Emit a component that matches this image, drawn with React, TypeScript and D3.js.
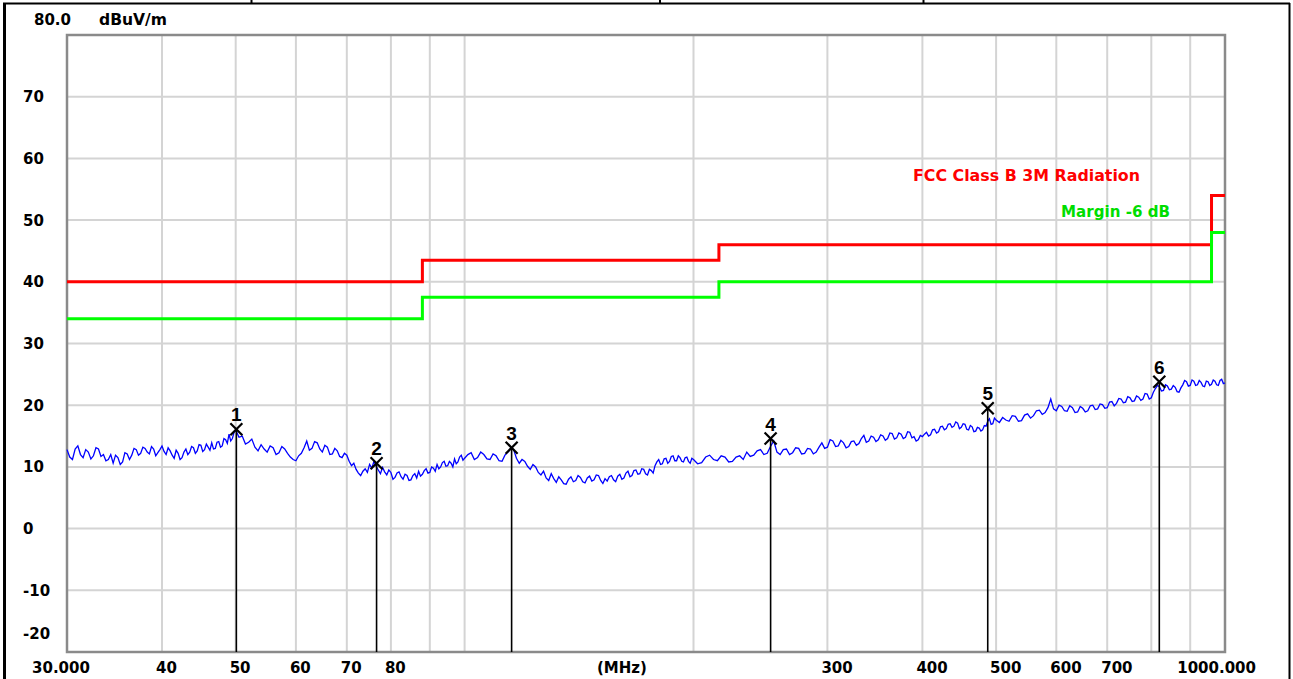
import React from "react";
import * as d3 from "d3";

const W = 1293;
const H = 679;

// ---- axis / grid definitions ----
const xGridFreqs = [40, 50, 60, 70, 80, 90, 100, 200, 300, 400, 500, 600, 700, 800, 900];
const xLabelFreqs = [40, 50, 60, 70, 80, 300, 400, 500, 600, 700];
const xLabelTexts = ["40", "50", "60", "70", "80", "300", "400", "500", "600", "700"];
const xFirstLabel = "30.000";
const xLastLabel = "1000.000";
const xUnitLabel = "(MHz)";
const yGridValues = [70, 60, 50, 40, 30, 20, 10, 0, -10];
const yLabelValues = [70, 60, 50, 40, 30, 20, 10, 0, -10];
const yBottomLabel = "-20";
const yTopLabel = "80.0";
const yUnit = "dBuV/m";

// ---- limit lines ----
const limitFreqs = [30, 88, 216, 960, 1000];
const limitLevels = [40, 43.5, 46, 54, 54];
const marginLevels = [34, 37.5, 40, 48, 48];
const limitName = "FCC Class B 3M Radiation";
const marginName = "Margin -6 dB";

// ---- markers ----
const markerLabels = ["1", "2", "3", "4", "5", "6"];
const markerFreqs = [50.1, 76.6, 115.3, 252.6, 487.5, 819.6];
const markerLevels = [16.1, 10.6, 13.1, 14.6, 19.5, 23.8];

// ---- measured trace [MHz, dBuV/m] ----
const trace: [number, number][] = [
  [30, 12.8], [30.25, 11.6], [30.5, 11.2], [30.75, 12.9], [31, 13.4], [31.25, 12.0], [31.5, 11.5], [31.75, 12.8],
  [32, 12.4], [32.25, 11.3], [32.5, 11.8], [32.75, 13.1], [33, 12.9], [33.25, 11.7], [33.5, 12.0], [33.75, 11.0],
  [34, 11.2], [34.25, 12.0], [34.5, 10.6], [34.75, 11.9], [35, 11.5], [35.25, 10.4], [35.5, 10.8], [35.75, 12.3],
  [36, 12.1], [36.25, 11.2], [36.5, 11.9], [36.75, 13.0], [37, 12.8], [37.25, 11.9], [37.5, 12.2], [37.75, 13.2],
  [38, 13.0], [38.25, 12.4], [38.5, 12.1], [38.75, 13.3], [39, 12.9], [39.25, 11.8], [39.5, 12.3], [39.75, 12.8],
  [40, 13.4], [40.25, 12.5], [40.5, 12.0], [40.75, 13.1], [41, 12.6], [41.25, 11.9], [41.5, 11.4], [41.75, 12.7],
  [42, 12.2], [42.25, 11.2], [42.5, 11.5], [42.75, 12.4], [43, 12.9], [43.25, 12.0], [43.5, 12.4], [43.75, 13.3],
  [44, 13.1], [44.25, 12.2], [44.5, 12.6], [44.75, 13.6], [45, 13.5], [45.25, 12.5], [45.5, 12.8], [45.75, 13.7],
  [46, 13.2], [46.25, 12.7], [46.5, 13.9], [46.75, 12.9], [47, 13.0], [47.25, 14.0], [47.5, 14.1], [47.75, 13.2],
  [48, 13.4], [48.25, 14.6], [48.5, 14.4], [48.75, 13.8], [49, 15.3], [49.25, 14.2], [49.5, 14.6], [49.75, 15.6],
  [50, 16.0], [50.5, 14.8], [51, 15.0], [51.5, 13.7], [52, 14.0], [52.5, 14.5], [53, 13.2], [53.5, 12.6],
  [54, 13.6], [54.5, 12.9], [55, 12.4], [55.5, 13.4], [56, 13.1], [56.5, 12.0], [57, 12.3], [57.5, 13.3],
  [58, 12.9], [58.5, 12.2], [59, 11.6], [59.5, 11.2], [60, 11.0], [60.5, 11.8], [61, 12.2], [61.5, 13.1],
  [62, 14.2], [62.5, 12.7], [63, 13.0], [63.5, 14.1], [64, 13.9], [64.5, 12.9], [65, 12.4], [65.5, 13.5],
  [66, 13.2], [66.5, 12.0], [67, 12.1], [67.5, 13.0], [68, 12.6], [68.5, 11.7], [69, 11.5], [69.5, 12.2],
  [70, 11.9], [70.5, 10.9], [71, 10.2], [71.5, 10.6], [72, 9.6], [72.5, 9.0], [73, 8.6], [73.5, 9.3],
  [74, 9.7], [74.5, 9.1], [75, 10.4], [75.5, 9.8], [76, 10.9], [76.5, 10.1], [77, 9.5], [77.5, 8.9],
  [78, 9.9], [78.5, 9.2], [79, 8.7], [79.5, 9.5], [80, 9.1], [80.5, 8.0], [81, 8.3], [81.5, 9.0],
  [82, 9.2], [82.5, 8.4], [83, 8.0], [83.5, 8.8], [84, 8.6], [84.5, 7.8], [85, 7.9], [85.5, 8.6],
  [86, 8.9], [86.5, 8.2], [87, 9.3], [87.5, 8.5], [88, 8.8], [88.5, 9.4], [89, 9.7], [89.5, 9.0],
  [90, 9.1], [90.5, 10.0], [91, 9.8], [91.5, 9.3], [92, 10.4], [92.5, 9.7], [93, 10.0], [93.5, 10.7],
  [94, 10.9], [94.5, 10.1], [95, 10.2], [95.5, 10.9], [96, 10.6], [96.5, 10.0], [97, 11.3], [97.5, 10.5],
  [98, 10.8], [98.5, 11.6], [99, 11.9], [99.5, 11.1], [100, 11.4],
  [101, 12.0], [102, 12.3], [103, 11.2], [104, 11.5], [105, 12.4], [106, 12.0], [107, 11.3], [108, 11.2],
  [109, 12.1], [110, 11.8], [111, 11.0], [112, 10.9], [113, 11.9], [114, 12.4], [115, 13.0], [116, 12.8],
  [117, 11.4], [118, 10.6], [119, 11.2], [120, 10.9], [121, 10.1], [122, 9.6], [123, 10.4], [124, 10.0],
  [125, 9.1], [126, 8.7], [127, 9.3], [128, 8.2], [129, 7.8], [130, 8.9], [131, 8.1], [132, 7.5],
  [133, 8.4], [134, 7.9], [135, 7.3], [136, 7.2], [137, 8.0], [138, 8.4], [139, 7.6], [140, 7.8],
  [141, 8.6], [142, 8.3], [143, 7.6], [144, 7.4], [145, 8.2], [146, 8.5], [147, 7.7], [148, 7.9],
  [149, 8.7], [150, 8.6], [151, 7.8], [152, 7.3], [153, 8.1], [154, 7.7], [155, 8.4], [156, 8.6],
  [157, 7.9], [158, 7.6], [159, 8.5], [160, 8.8], [161, 8.0], [162, 8.2], [163, 9.0], [164, 9.3],
  [165, 8.4], [166, 8.6], [167, 9.4], [168, 9.5], [169, 8.8], [170, 8.9], [171, 9.7], [172, 9.6],
  [173, 8.9], [174, 8.7], [175, 9.6], [176, 9.4], [177, 9.0], [178, 10.2], [179, 10.8], [180, 11.2],
  [181, 10.4], [182, 10.5], [183, 11.3], [184, 11.4], [185, 10.6], [186, 10.9], [187, 11.7], [188, 11.8],
  [189, 11.0], [190, 11.0], [191, 11.8], [192, 11.5], [193, 10.9], [194, 10.8], [195, 11.5], [196, 11.6],
  [197, 10.9], [198, 10.6], [199, 11.4], [200, 11.2],
  [202.5, 10.5], [205, 10.7], [207.5, 11.6], [210, 11.9], [212.5, 11.2], [215, 11.0], [217.5, 11.8], [220, 11.6],
  [222.5, 10.8], [225, 10.9], [227.5, 11.6], [230, 11.8], [232.5, 11.2], [235, 12.4], [237.5, 11.7], [240, 11.9],
  [242.5, 12.6], [245, 12.8], [247.5, 12.0], [250, 12.2], [252.5, 13.3], [255, 14.2], [257.5, 12.4], [260, 12.0],
  [262.5, 12.8], [265, 12.9], [267.5, 12.0], [270, 12.3], [272.5, 13.1], [275, 13.0], [277.5, 12.1], [280, 12.2],
  [282.5, 13.0], [285, 12.9], [287.5, 12.1], [290, 12.4], [292.5, 13.2], [295, 13.9], [297.5, 13.0], [300, 13.2],
  [302.5, 14.4], [305, 14.2], [307.5, 13.3], [310, 13.4], [312.5, 14.3], [315, 13.9], [317.5, 13.1], [320, 13.3],
  [322.5, 14.1], [325, 14.2], [327.5, 13.5], [330, 13.8], [332.5, 14.6], [335, 15.1], [337.5, 14.0], [340, 14.2],
  [342.5, 15.0], [345, 14.8], [347.5, 14.1], [350, 14.4], [352.5, 15.2], [355, 15.0], [357.5, 14.3], [360, 14.6],
  [362.5, 15.5], [365, 15.4], [367.5, 14.5], [370, 14.7], [372.5, 15.5], [375, 15.3], [377.5, 14.6], [380, 14.8],
  [382.5, 15.7], [385, 15.6], [387.5, 14.7], [390, 14.9], [392.5, 14.2], [395, 14.4], [397.5, 15.1], [400, 14.9],
  [402.5, 15.3], [405, 15.6], [407.5, 15.0], [410, 15.2], [412.5, 16.0], [415, 16.1], [417.5, 15.5], [420, 15.7],
  [422.5, 16.5], [425, 16.6], [427.5, 16.0], [430, 16.2], [432.5, 16.9], [435, 17.0], [437.5, 16.4], [440, 16.6],
  [442.5, 17.3], [445, 17.1], [447.5, 16.2], [450, 16.4], [452.5, 17.0], [455, 16.9], [457.5, 16.1], [460, 16.0],
  [462.5, 16.7], [465, 16.5], [467.5, 15.7], [470, 15.8], [472.5, 16.4], [475, 16.3], [477.5, 15.8], [480, 16.0],
  [482.5, 16.7], [485, 16.6], [487.5, 17.4], [490, 17.8], [492.5, 16.9], [495, 17.0], [497.5, 17.9], [500, 17.6],
  [505, 17.2], [510, 18.0], [515, 17.6], [520, 17.4], [525, 18.3], [530, 18.2], [535, 17.4], [540, 17.5],
  [545, 18.4], [550, 18.6], [555, 17.9], [560, 18.3], [565, 19.1], [570, 19.2], [575, 18.5], [580, 18.8],
  [585, 19.6], [590, 21.0], [595, 19.4], [600, 19.1], [605, 20.0], [610, 19.8], [615, 19.1], [620, 19.0],
  [625, 19.9], [630, 19.6], [635, 18.8], [640, 18.9], [645, 19.8], [650, 19.5], [655, 18.9], [660, 19.1],
  [665, 19.9], [670, 20.0], [675, 19.3], [680, 19.4], [685, 20.2], [690, 20.1], [695, 19.5], [700, 19.6],
  [705, 20.5], [710, 20.6], [715, 19.9], [720, 20.3], [725, 21.1], [730, 21.0], [735, 20.4], [740, 20.5],
  [745, 21.4], [750, 21.2], [755, 20.6], [760, 20.7], [765, 21.5], [770, 21.3], [775, 20.8], [780, 21.0],
  [785, 21.9], [790, 21.8], [795, 21.0], [800, 21.2], [805, 22.1], [810, 22.7], [815, 23.2], [820, 23.0],
  [825, 22.3], [830, 22.4], [835, 23.3], [840, 23.1], [845, 22.5], [850, 22.6], [855, 23.2], [860, 22.9],
  [865, 22.2], [870, 22.1], [875, 22.8], [880, 23.3], [885, 24.0], [890, 23.8], [895, 23.1], [900, 23.2],
  [905, 24.1], [910, 23.9], [915, 23.2], [920, 23.3], [925, 24.0], [930, 23.7], [935, 23.1], [940, 23.0],
  [945, 23.9], [950, 23.8], [955, 23.2], [960, 23.4], [965, 24.1], [970, 23.9], [975, 23.3], [980, 23.2],
  [985, 24.0], [990, 24.2], [995, 23.5], [1000, 23.6],
];

const PLOT = { left: 67, right: 1225, top: 35, bottom: 652 };
const FONT = "'DejaVu Sans', sans-serif";

export default function App() {
  const x = d3.scaleLog().domain([30, 1000]).range([PLOT.left, PLOT.right]);
  const y = d3.scaleLinear().domain([-20, 80]).range([PLOT.bottom, PLOT.top]);

  const stepLine = d3
    .line<[number, number]>()
    .x((d) => x(d[0]))
    .y((d) => y(d[1]))
    .curve(d3.curveStepAfter);
  const traceLine = d3
    .line<[number, number]>()
    .x((d) => x(d[0]))
    .y((d) => y(d[1]));

  const limitPts = limitFreqs.map((f, i) => [f, limitLevels[i]] as [number, number]);
  const marginPts = limitFreqs.map((f, i) => [f, marginLevels[i]] as [number, number]);

  const gridColor = "#d4d4d4";

  return (
    <svg
      width={W}
      height={H}
      style={{ position: "absolute", left: 0, top: 0, background: "#fff" }}
      fontFamily={FONT}
    >
      <rect x={0} y={0} width={W} height={H} fill="#fff" />
      {/* outer frame */}
      <line x1={3} y1={3.5} x2={1290} y2={3.5} stroke="#000" strokeWidth={2} />
      <line x1={4.5} y1={3} x2={4.5} y2={H} stroke="#000" strokeWidth={3} />
      <line x1={1289.5} y1={3} x2={1289.5} y2={H} stroke="#000" strokeWidth={2} />
      {[251.5, 660, 923.5].map((sx) => (
        <line key={sx} x1={sx} y1={0} x2={sx} y2={4} stroke="#000" strokeWidth={2} />
      ))}

      {/* grid */}
      {xGridFreqs.map((f) => (
        <line key={"gx" + f} x1={x(f)} x2={x(f)} y1={PLOT.top} y2={PLOT.bottom} stroke={gridColor} strokeWidth={2} />
      ))}
      {yGridValues.map((v) => (
        <line key={"gy" + v} x1={PLOT.left} x2={PLOT.right} y1={y(v)} y2={y(v)} stroke={gridColor} strokeWidth={2} />
      ))}

      {/* plot frame */}
      <rect
        x={PLOT.left}
        y={PLOT.top}
        width={PLOT.right - PLOT.left}
        height={PLOT.bottom - PLOT.top}
        fill="none"
        stroke="#8a8a8a"
        strokeWidth={2.5}
      />

      {/* limit lines */}
      <path d={stepLine(limitPts) || ""} fill="none" stroke="#ff0000" strokeWidth={3} />
      <path d={stepLine(marginPts) || ""} fill="none" stroke="#00ff00" strokeWidth={3} />

      {/* trace */}
      <path d={traceLine(trace) || ""} fill="none" stroke="#0000ff" strokeWidth={1.3} strokeLinejoin="miter" />

      {/* markers */}
      {markerFreqs.map((f, i) => {
        const cx = x(f);
        const cy = y(markerLevels[i]);
        return (
          <g key={"m" + i}>
            <line x1={cx} x2={cx} y1={cy} y2={PLOT.bottom} stroke="#000" strokeWidth={1.6} />
            <line x1={cx - 6} y1={cy - 6} x2={cx + 6} y2={cy + 6} stroke="#000" strokeWidth={2.2} />
            <line x1={cx - 6} y1={cy + 6} x2={cx + 6} y2={cy - 6} stroke="#000" strokeWidth={2.2} />
            <text
              x={cx}
              y={cy - 8}
              textAnchor="middle"
              fontFamily="'Liberation Sans', Arial, sans-serif"
              fontWeight="bold"
              fontSize={19}
              fill="#000"
            >
              {markerLabels[i]}
            </text>
          </g>
        );
      })}

      {/* legend */}
      <text x={913} y={181} fontSize={16} fontWeight="bold" fill="#ff0000" textLength={227} lengthAdjust="spacingAndGlyphs">
        {limitName}
      </text>
      <text x={1061} y={217} fontSize={16} fontWeight="bold" fill="#00dd00" textLength={109} lengthAdjust="spacingAndGlyphs">
        {marginName}
      </text>

      {/* y labels */}
      <text x={34} y={24.5} fontSize={15} fontWeight="bold" fill="#000">
        {yTopLabel}
      </text>
      <text x={99} y={24.5} fontSize={15} fontWeight="bold" fill="#000" textLength={68} lengthAdjust="spacingAndGlyphs">
        {yUnit}
      </text>
      {yLabelValues.map((v) => (
        <text key={"yl" + v} x={23} y={y(v) + 5.5} fontSize={15} fontWeight="bold" fill="#000">
          {String(v)}
        </text>
      ))}
      <text x={23} y={PLOT.bottom - 13.5} fontSize={15} fontWeight="bold" fill="#000">
        {yBottomLabel}
      </text>

      {/* x labels */}
      <text x={x(30) - 6} y={673} textAnchor="middle" fontSize={15} fontWeight="bold" fill="#000">
        {xFirstLabel}
      </text>
      {xLabelFreqs.map((f, i) => (
        <text key={"xl" + f} x={x(f) - 6} y={673} fontSize={15} fontWeight="bold" fill="#000">
          {xLabelTexts[i]}
        </text>
      ))}
      <text x={597} y={673} fontSize={15} fontWeight="bold" fill="#000">
        {xUnitLabel}
      </text>
      <text x={x(1000) + 31} y={673} textAnchor="end" fontSize={15} fontWeight="bold" fill="#000">
        {xLastLabel}
      </text>
    </svg>
  );
}
